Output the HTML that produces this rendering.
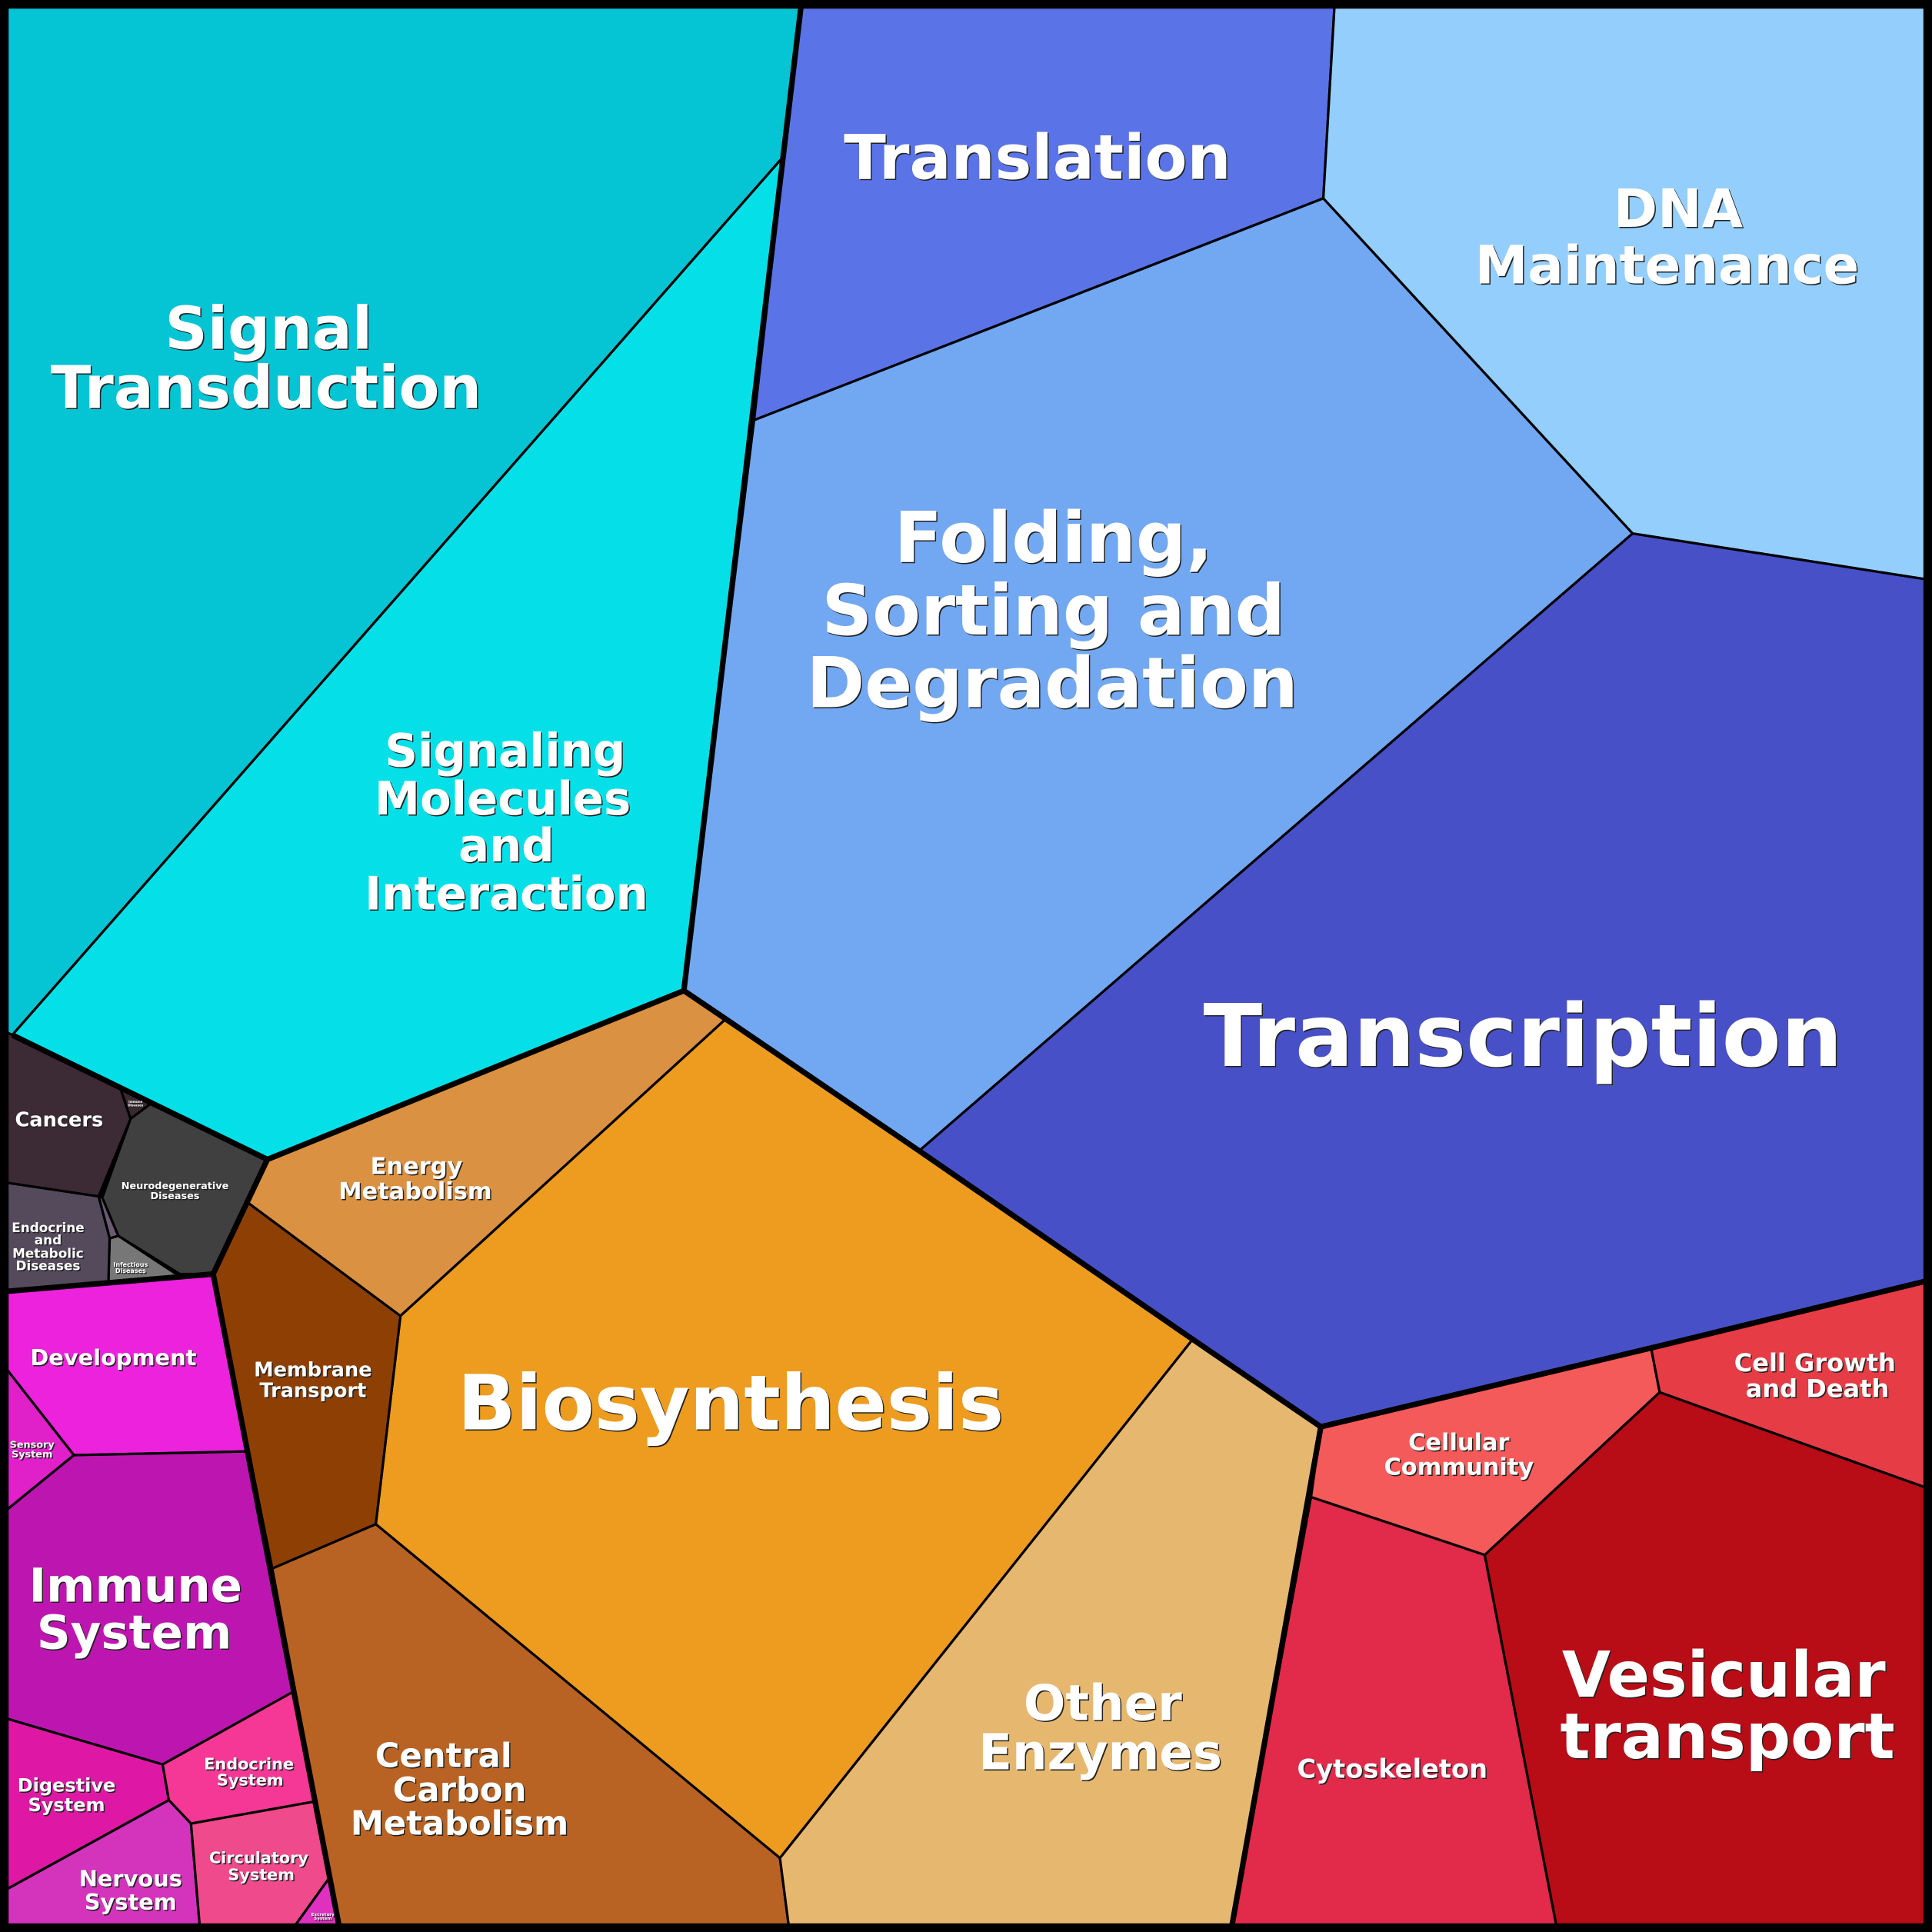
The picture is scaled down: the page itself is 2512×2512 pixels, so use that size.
<!DOCTYPE html>
<html><head><meta charset="utf-8"><style>
html,body{margin:0;padding:0;background:#000;}
svg{display:block}
text{font-family:"DejaVu Sans","Liberation Sans",sans-serif;font-weight:bold;fill:#fff;text-anchor:middle;text-shadow:1.5px 1.5px 0 #222;}
.t{stroke:#000;stroke-width:2;stroke-linejoin:round}
.k{fill:none;stroke:#000;stroke-width:4.5;stroke-linejoin:round}
</style></head><body>
<svg width="2512" height="2512" viewBox="0 0 1568 1568" xmlns="http://www.w3.org/2000/svg">
<rect x="0" y="0" width="1568" height="1568" fill="#000"/>
<g class="t">
<polygon fill="#05c4d4" points="6,6 650,6 635,128 10,840 6,840"/>
<polygon fill="#05e0e8" points="635,128 10,840 217,941 555,804"/>
<polygon fill="#5a73e6" points="650,6 1083,6 1074,161 612,341"/>
<polygon fill="#93cefc" points="1083,6 1562,6 1562,470 1325,433 1074,161"/>
<polygon fill="#72a8f2" points="612,341 1074,161 1325,433 746,934 589,827 555,804"/>
<polygon fill="#4850c8" points="1325,433 1562,470 1562,1040 1340,1094 1072,1158 968,1087 746,934"/>
<polygon fill="#da9142" points="555,804 589,827 325,1068 201,976 217,941"/>
<polygon fill="#ed9c1f" points="589,827 746,934 968,1087 633,1508 305,1237 325,1068"/>
<polygon fill="#8e4004" points="201,976 325,1068 305,1237 221,1273 173,1034"/>
<polygon fill="#b86324" points="221,1273 305,1237 633,1508 640,1562 275,1562"/>
<polygon fill="#e6b86f" points="968,1087 1072,1158 1000,1562 640,1562 633,1508"/>
<polygon fill="#f55a5a" points="1072,1158 1340,1094 1347,1130 1205,1262 1064,1215"/>
<polygon fill="#e63c46" points="1340,1094 1562,1040 1562,1207 1347,1130"/>
<polygon fill="#e22a4a" points="1064,1215 1205,1262 1263,1562 1000,1562"/>
<polygon fill="#b80c16" points="1205,1262 1347,1130 1562,1207 1562,1562 1263,1562"/>
<polygon fill="#3c2a34" points="6,838 98,884 106,908 80,971 6,960"/>
<polygon fill="#3a2a30" points="98,884 122,896 106,908"/>
<polygon fill="#404040" points="106,908 122,896 217,941 173,1034 146,1034 96,1003 83,972"/>
<polygon fill="#777777" points="89,1005 96,1003 146,1036 88,1040"/>
<polygon fill="#6a5a72" points="80,971 83,972 96,1003 89,1005"/>
<polygon fill="#554a5c" points="6,960 80,971 89,1005 88,1040 6,1048"/>
<polygon fill="#ec22dc" points="6,1048 173,1034 200,1178 60,1181 6,1112"/>
<polygon fill="#e020c8" points="6,1112 60,1181 6,1225"/>
<polygon fill="#bd16b0" points="6,1225 60,1181 200,1178 238,1373 132,1432 6,1395"/>
<polygon fill="#de18a4" points="6,1395 132,1432 137,1461 6,1533"/>
<polygon fill="#f53896" points="132,1432 238,1373 256,1462 155,1480 137,1461"/>
<polygon fill="#d434bc" points="6,1533 137,1461 155,1480 162,1562 6,1562"/>
<polygon fill="#ef4a8c" points="155,1480 256,1462 268,1523 240,1562 162,1562"/>
<polygon fill="#e030c0" points="268,1523 240,1562 275,1562"/>
</g>
<polyline class="k" points="650,6 555,804 217,941 10,840"/>
<polyline class="k" points="555,804 589,827 746,934 968,1087 1072,1158 1340,1094 1562,1040"/>
<polyline class="k" points="1072,1158 1000,1562"/>
<polyline class="k" points="217,941 173,1034 275,1562"/>
<polyline class="k" points="6,1048 173,1034"/>
<rect x="3" y="3" width="1562" height="1562" fill="none" stroke="#000" stroke-width="7"/>

<text font-size="48" x="218" y="283">Signal</text>
<text font-size="48" x="216" y="331">Transduction</text>
<text font-size="37" x="410" y="622">Signaling</text>
<text font-size="37" x="408" y="661">Molecules</text>
<text font-size="37" x="411" y="699">and</text>
<text font-size="37" x="411" y="738">Interaction</text>
<text font-size="50" x="842" y="145">Translation</text>
<text font-size="43" x="1362" y="184">DNA</text>
<text font-size="43" x="1353" y="230">Maintenance</text>
<text font-size="57" x="855" y="456">Folding,</text>
<text font-size="57" x="855" y="515">Sorting and</text>
<text font-size="57" x="854" y="574">Degradation</text>
<text font-size="70" x="1236" y="865">Transcription</text>
<text font-size="62" x="593" y="1160">Biosynthesis</text>
<text font-size="19" x="338" y="953">Energy</text>
<text font-size="19" x="337" y="973">Metabolism</text>
<text font-size="16" x="254" y="1117">Membrane</text>
<text font-size="16" x="254" y="1134">Transport</text>
<text font-size="27" x="360" y="1434">Central</text>
<text font-size="27" x="373" y="1462">Carbon</text>
<text font-size="27" x="373" y="1489">Metabolism</text>
<text font-size="40" x="895" y="1396">Other</text>
<text font-size="40" x="893" y="1436">Enzymes</text>
<text font-size="19" x="1184" y="1177">Cellular</text>
<text font-size="19" x="1184" y="1197">Community</text>
<text font-size="20" x="1473" y="1113">Cell Growth</text>
<text font-size="20" x="1475" y="1134">and Death</text>
<text font-size="21" x="1130" y="1443">Cytoskeleton</text>
<text font-size="51" x="1399" y="1377">Vesicular</text>
<text font-size="51" x="1402" y="1427">transport</text>
<text font-size="16" x="48" y="914">Cancers</text>
<text font-size="8" x="142" y="965">Neurodegenerative</text>
<text font-size="8" x="142" y="973">Diseases</text>
<text font-size="10.5" x="39" y="1000">Endocrine</text>
<text font-size="10.5" x="39" y="1010">and</text>
<text font-size="10.5" x="39" y="1021">Metabolic</text>
<text font-size="10.5" x="39" y="1031">Diseases</text>
<text font-size="5" x="106" y="1028">Infectious</text>
<text font-size="5" x="106" y="1033">Diseases</text>
<text font-size="2.5" x="110" y="895">Immune</text>
<text font-size="2.5" x="110" y="898">Diseases</text>
<text font-size="18" x="92" y="1108">Development</text>
<text font-size="8" x="26" y="1175">Sensory</text>
<text font-size="8" x="26" y="1183">System</text>
<text font-size="38" x="110" y="1300">Immune</text>
<text font-size="38" x="109" y="1338">System</text>
<text font-size="15" x="54" y="1454">Digestive</text>
<text font-size="15" x="54" y="1470">System</text>
<text font-size="13" x="202" y="1436">Endocrine</text>
<text font-size="13" x="203" y="1449">System</text>
<text font-size="18" x="106" y="1531">Nervous</text>
<text font-size="18" x="106" y="1550">System</text>
<text font-size="13" x="210" y="1512">Circulatory</text>
<text font-size="13" x="212" y="1526">System</text>
<text font-size="3.5" x="262" y="1555">Excretory</text>
<text font-size="3.5" x="262" y="1558">System</text>
</svg>
</body></html>
